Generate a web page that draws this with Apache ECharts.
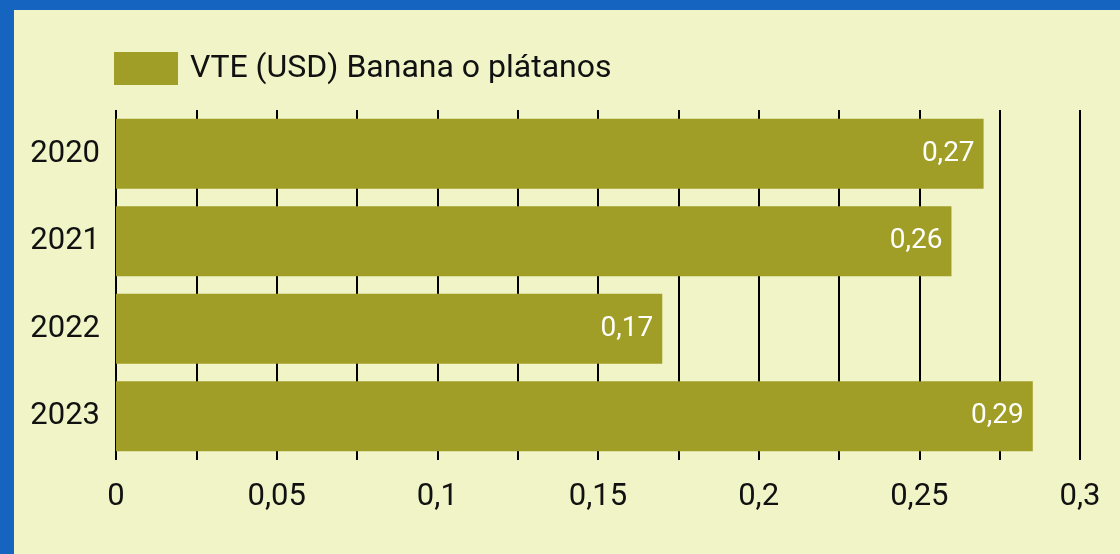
<!DOCTYPE html>
<html>
<head>
<meta charset="utf-8">
<script src="https://cdn.jsdelivr.net/npm/echarts@6/dist/echarts.min.js"></script>
<style>
  html, body { margin: 0; padding: 0; background: #1565c0; }
  #chart { position: absolute; left: 14px; top: 10px; width: 1106px; height: 544px; }
</style>
</head>
<body>
<div id="chart"></div>
<script>
// datos
var years = ['2020', '2021', '2022', '2023'];
var vteValues = [0.27, 0.26, 0.17, 0.2853];
var seriesName = 'VTE (USD) Banana o plátanos';

function fmtComma(v) {
  return String(+v.toFixed(3)).replace('.', ',');
}

var chart = echarts.init(document.getElementById('chart'));

var option = {
  backgroundColor: '#f0f4c6',
  textStyle: { fontFamily: 'Roboto' },
  legend: {
    data: [seriesName],
    left: 95,
    top: 37,
    itemWidth: 64,
    itemHeight: 33,
    icon: 'rect',
    textStyle: { fontSize: 32, color: '#111', padding: [0, 0, 0, 7] }
  },
  grid: {
    left: 102,
    right: 40,
    top: 100,
    bottom: 94
  },
  xAxis: {
    type: 'value',
    min: 0,
    max: 0.3,
    interval: 0.025,
    axisLine: { show: false },
    axisTick: { show: false },
    splitLine: { show: true, lineStyle: { color: '#000', width: 2 } },
    axisLabel: {
      fontSize: 31,
      color: '#111',
      margin: 22,
      formatter: function (v) {
        // solo cada 0,05
        if (Math.round(v / 0.025) % 2 !== 0) return '';
        return fmtComma(v);
      }
    }
  },
  yAxis: {
    type: 'category',
    data: years,
    inverse: true,
    axisLine: { show: false },
    axisTick: { show: false },
    axisLabel: { fontSize: 31, color: '#111', margin: 16 }
  },
  series: [
    {
      name: seriesName,
      type: 'bar',
      data: vteValues,
      barCategoryGap: '20%',
      itemStyle: { color: '#a09e26' },
      label: {
        show: true,
        position: 'insideRight',
        distance: 9,
        color: '#fff',
        fontSize: 28,
        formatter: function (p) {
          return (Math.round(p.value * 100) / 100).toFixed(2).replace('.', ',');
        }
      }
    }
  ]
};

chart.setOption(option);
</script>
</body>
</html>
